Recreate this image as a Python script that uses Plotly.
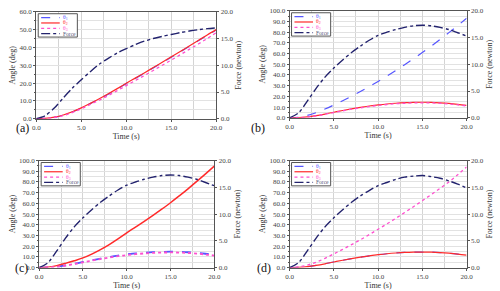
import plotly.graph_objects as go

W, H = 500, 291
FONT = "Liberation Serif"

# ---------------- data ----------------
time_s = list(range(21))

# panel (a)
a_theta1 = [0, 0.2, 0.8, 2.0, 3.8, 6.0, 8.5, 11.0, 13.8, 16.7, 19.7, 22.6, 25.5, 28.5, 31.5, 34.5, 37.5, 40.6, 43.7, 46.8, 49.8]
a_theta2 = [0, 0.2, 0.9, 2.1, 3.9, 6.1, 8.6, 11.2, 14.0, 16.9, 19.9, 22.8, 25.7, 28.7, 31.7, 34.7, 37.7, 40.8, 43.9, 47.0, 50.0]
a_theta3 = [0, 0.2, 0.7, 1.8, 3.5, 5.6, 8.0, 10.4, 13.0, 15.8, 18.6, 21.4, 24.2, 27.1, 30.0, 32.9, 35.9, 38.9, 41.9, 45.0, 48.3]
a_force = [0, 0.6, 2.0, 3.9, 5.7, 7.3, 8.8, 10.2, 11.3, 12.3, 13.1, 13.85, 14.5, 15.0, 15.4, 15.75, 16.1, 16.4, 16.65, 16.85, 17.0]

# panel (b)
b_theta1 = [0, 0.5, 2.2, 4.8, 8.2, 12.0, 16.0, 20.2, 24.6, 29.2, 34.0, 39.0, 44.2, 49.6, 55.2, 61.0, 67.0, 73.2, 79.6, 86.2, 93.0]
b_theta2 = [0, 0.1, 0.8, 2.0, 3.5, 5.2, 6.8, 8.3, 9.7, 11.0, 12.0, 12.9, 13.6, 14.1, 14.4, 14.5, 14.4, 14.0, 13.4, 12.6, 11.6]
b_theta3 = [0, 0.1, 0.7, 1.8, 3.3, 4.9, 6.5, 8.0, 9.3, 10.5, 11.5, 12.4, 13.1, 13.6, 13.9, 14.0, 13.9, 13.5, 12.9, 12.1, 11.1]
b_force = [0, 0.9, 3.1, 5.5, 7.6, 9.3, 10.8, 12.2, 13.4, 14.5, 15.4, 16.0, 16.5, 16.9, 17.2, 17.3, 17.2, 16.9, 16.5, 15.9, 15.3]

# panel (c)
c_theta1 = [0, 0.1, 0.8, 2.0, 3.5, 5.2, 6.8, 8.4, 9.9, 11.2, 12.3, 13.2, 13.9, 14.4, 14.7, 14.8, 14.7, 14.3, 13.7, 12.9, 11.9]
c_theta2 = [0, 0.4, 1.8, 3.9, 6.3, 9.0, 12.6, 16.8, 21.5, 26.8, 32.5, 37.8, 43.2, 48.8, 54.6, 60.6, 67.0, 73.6, 80.5, 87.6, 94.8]
c_theta3 = [0, 0.1, 0.7, 1.8, 3.3, 4.9, 6.5, 8.0, 9.4, 10.6, 11.6, 12.5, 13.2, 13.7, 14.0, 14.1, 14.0, 13.6, 13.0, 12.2, 11.2]
c_force = [0, 0.9, 3.1, 5.5, 7.6, 9.3, 10.8, 12.2, 13.4, 14.5, 15.4, 16.0, 16.5, 16.9, 17.2, 17.3, 17.2, 16.9, 16.5, 15.9, 15.3]

# panel (d)
d_theta1 = [0, 0.1, 0.8, 2.0, 3.5, 5.2, 6.8, 8.3, 9.7, 11.0, 12.0, 12.9, 13.6, 14.1, 14.4, 14.5, 14.4, 14.0, 13.4, 12.6, 11.6]
d_theta2 = [0, 0.1, 0.8, 2.0, 3.5, 5.2, 6.8, 8.3, 9.7, 11.0, 12.0, 12.9, 13.6, 14.1, 14.4, 14.5, 14.4, 14.0, 13.4, 12.6, 11.6]
d_theta3 = [0, 0.5, 2.3, 5.0, 8.6, 12.8, 17.0, 21.4, 26.0, 30.8, 35.8, 40.8, 46.0, 51.4, 56.9, 62.5, 68.2, 74.0, 80.0, 86.8, 94.0]
d_force = [0, 0.9, 3.1, 5.5, 7.6, 9.3, 10.8, 12.2, 13.4, 14.4, 15.3, 15.9, 16.5, 16.9, 17.1, 17.2, 17.0, 16.7, 16.2, 15.6, 14.9]

panel_labels = ["(a)", "(b)", "(c)", "(d)"]
angle_max = [60, 100, 100, 100]
series_names = ["θ<sub>1</sub>", "θ<sub>2</sub>", "θ<sub>3</sub>", "Force"]

# ---------------- styling ----------------
C1, C2, C3, CF = "#5555ff", "#ff2a2a", "#ff4fcf", "#23236e"
styles = [
    dict(color=C1, dash="dash", width=1.2),
    dict(color=C2, dash="solid", width=1.2),
    dict(color=C3, dash="dot", width=1.3),
    dict(color=CF, dash="dashdot", width=1.4),
]

# pixel boxes (left, top, right, bottom)
boxes = [(33, 8, 217, 118), (292, 7, 473, 117), (36, 161, 215, 271), (292, 161, 473, 271)]
label_pos = [(10, 128), (260, 128), (9, 281), (266, 281)]
wide_lines = [False, False, True, False]

def X(px):
    return px / W

def Y(py):
    return 1 - py / H

panels = [
    (a_theta1, a_theta2, a_theta3, a_force),
    (b_theta1, b_theta2, b_theta3, b_force),
    (c_theta1, c_theta2, c_theta3, c_force),
    (d_theta1, d_theta2, d_theta3, d_force),
]

fig = go.Figure()
layout = dict(
    width=W, height=H, margin=dict(l=0, r=0, t=0, b=0),
    paper_bgcolor="white", plot_bgcolor="white", showlegend=False,
    font=dict(family=FONT, size=7, color="#444444"),
)
shapes = []
annotations = []

for i, (data, box) in enumerate(zip(panels, boxes)):
    l, t, r, b = box
    xa = "x" if i == 0 else f"x{i+1}"
    ya = "y" if i == 0 else f"y{2*i+1}"
    yb = f"y{2*i+2}"
    xkey = "xaxis" if i == 0 else f"xaxis{i+1}"
    ykey = "yaxis" if i == 0 else f"yaxis{2*i+1}"
    ykey2 = f"yaxis{2*i+2}"

    for j in range(3):
        st = dict(styles[j])
        if wide_lines[i] and j != 1:
            st["width"] = 1.8
        if wide_lines[i] and j == 1:
            st["width"] = 1.5
        fig.add_trace(go.Scatter(x=time_s, y=data[j], mode="lines", line=st,
                                 line_shape="spline", xaxis=xa, yaxis=ya))
    fig.add_trace(go.Scatter(x=time_s, y=data[3], mode="lines", line=dict(styles[3], smoothing=0.8),
                             line_shape="spline", xaxis=xa, yaxis=yb))

    dom_x = [X(l), X(r)]
    dom_y = [Y(b), Y(t)]
    layout[xkey] = dict(
        domain=dom_x, anchor=ya, range=[0, 20], dtick=5, tickformat=".1f",
        showgrid=True, gridcolor="#d4d4d4", gridwidth=1.3,
        minor=dict(dtick=2.5, showgrid=True, gridcolor="#d4d4d4", gridwidth=1.3),
        showline=True, linecolor="#555555", linewidth=1, mirror=True,
        ticks="outside", ticklen=2, tickcolor="#555555",
        zeroline=False, tickfont=dict(size=7, family=FONT, color="#444444"),
        title=dict(text="Time (s)", standoff=1, font=dict(size=8, family=FONT, color="#333333")),
    )
    layout[ykey] = dict(
        domain=dom_y, anchor=xa, range=[0, angle_max[i]], dtick=10, tickformat=".1f",
        showgrid=True, gridcolor="#e2e2e2", gridwidth=1,
        minor=dict(dtick=5, showgrid=True, gridcolor="#e2e2e2", gridwidth=1,
                   ticks="outside", ticklen=1, tickcolor="#555555"),
        showline=True, linecolor="#555555", linewidth=1,
        ticks="outside", ticklen=2, tickcolor="#555555",
        zeroline=False, tickfont=dict(size=7, family=FONT, color="#444444"),
        title=dict(text="Angle (deg)", standoff=2, font=dict(size=8, family=FONT, color="#333333")),
    )
    layout[ykey2] = dict(
        overlaying=ya, anchor=xa, side="right", range=[0, 20], dtick=5, tickformat=".1f",
        showgrid=False, showline=True, linecolor="#555555", linewidth=1,
        ticks="outside", ticklen=2, tickcolor="#555555",
        zeroline=False, tickfont=dict(size=7, family=FONT, color="#444444"),
        title=dict(text="Force (newton)", standoff=3, font=dict(size=8, family=FONT, color="#333333")),
    )

    # panel label
    lx, ly = label_pos[i]
    annotations.append(dict(text=panel_labels[i], x=X(lx), y=Y(ly), xref="paper", yref="paper",
                            showarrow=False, font=dict(size=12, family=FONT, color="#111111")))

    # legend box (drawn by hand)
    bl, bt = l + 2, t + 2
    bw, bh = 40, 24
    shapes.append(dict(type="rect", xref="paper", yref="paper",
                       x0=X(bl), x1=X(bl + bw), y0=Y(bt + bh), y1=Y(bt),
                       line=dict(color="#555555", width=1), fillcolor="white", layer="above"))
    for j in range(4):
        yy = bt + 4 + j * 5.5
        st = dict(styles[j])
        st["width"] = 1.2
        shapes.append(dict(type="line", xref="paper", yref="paper",
                           x0=X(bl + 3), x1=X(bl + 22), y0=Y(yy), y1=Y(yy),
                           line=st, layer="above"))
        tc = [C1, C2, C3, "#555577"][j]
        annotations.append(dict(text=series_names[j], x=X(bl + 23), y=Y(yy), xref="paper", yref="paper",
                                xanchor="left", yanchor="middle", showarrow=False,
                                font=dict(size=5.5, family=FONT, color=tc)))

layout["shapes"] = shapes
layout["annotations"] = annotations
fig.update_layout(**layout)
fig.write_html("out.html", config={"displayModeBar": False},
               post_script="document.body.style.margin='0px';document.body.style.overflow='hidden';")
